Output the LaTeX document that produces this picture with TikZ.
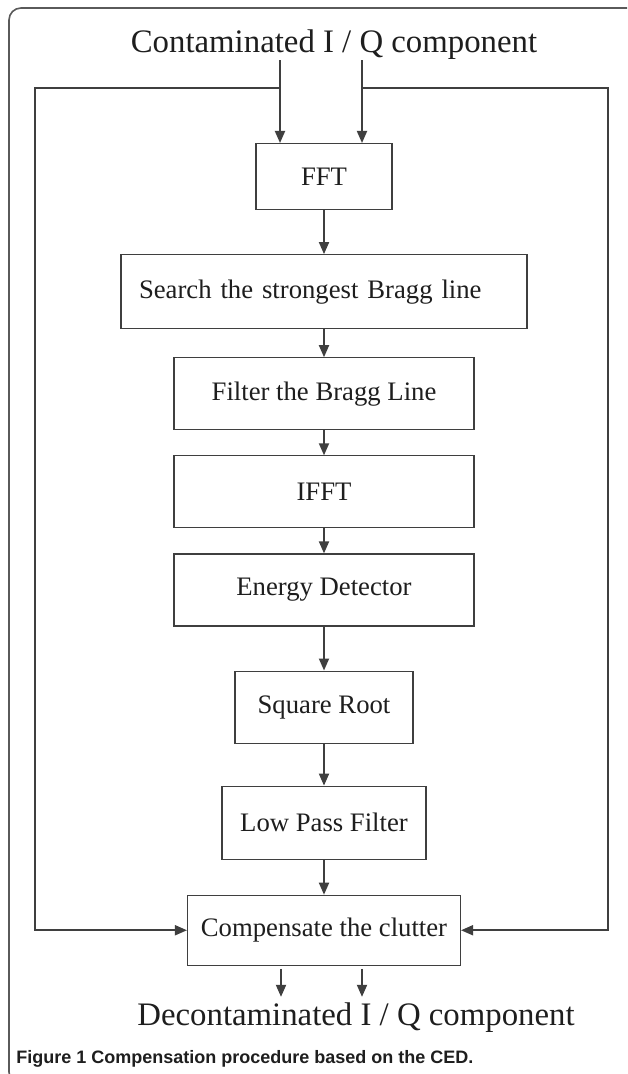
\documentclass[tikz,border=0pt]{standalone}
\usepackage{fontspec}
\setmainfont{Liberation Serif}
\newfontfamily\capfont{Liberation Sans}
\usetikzlibrary{arrows.meta,positioning,calc}
\definecolor{linegray}{HTML}{3F3F3F}
\definecolor{framegray}{HTML}{5A5A5A}
\definecolor{inkgray}{HTML}{1E1E1E}

\begin{document}
\begin{tikzpicture}[
    x=0.5pt, y=-0.5pt,
    font=\fontsize{13.35pt}{16pt}\selectfont,
    node distance=0mm,
    stage/.style={draw=linegray, line width=0.55pt, inner sep=0pt, align=center, text=inkgray, minimum height=36pt},
    flow/.style={-{Triangle[length=6pt,width=5pt]}, draw=linegray, line width=0.9pt},
    big/.style={font=\fontsize{16.4pt}{19pt}\selectfont, inner sep=0pt, text=inkgray}
]
\useasboundingbox (0,0) rectangle (627,1074);
\clip (0,0) rectangle (627,1074);
\fill[white] (0,0) rectangle (627,1074);

% outer frame
\draw[framegray, line width=0.8pt, rounded corners=6pt] (660,8) -- (9,8) -- (9,1084) -- (60,1084);

\node[big, anchor=base] (src) at (334,53) {Contaminated I / Q component};

\node[stage, minimum width=68pt, minimum height=33pt, anchor=north] (fft) at (324,143) {FFT};
\node[stage, text width=185pt, inner xsep=9pt, align=left, minimum height=37pt, below=22pt of fft] (srch) {Search the strongest Bragg line};
\node[stage, minimum width=150pt, below=14pt of srch] (filt) {Filter the Bragg Line};
\node[stage, minimum width=150pt, below=12.5pt of filt] (ifft) {IFFT};
\node[stage, minimum width=150pt, below=12.5pt of ifft] (edet) {Energy Detector};
\node[stage, minimum width=89pt, below=22pt of edet] (sroot) {Square Root};
\node[stage, minimum width=102pt, minimum height=36.5pt, below=21pt of sroot] (lpf) {Low Pass Filter};
\node[stage, minimum width=136.5pt, minimum height=35pt, below=17.5pt of lpf] (comp) {Compensate the clutter};

\node[big, anchor=base] (dst) at (356,1025) {Decontaminated I / Q component};

\node[anchor=base west, inner sep=0pt, text=inkgray, font=\capfont\bfseries\fontsize{9pt}{11pt}\selectfont] (cap) at (16,1063) {Figure 1 Compensation procedure based on the CED.};

% inputs and the two bypass lines
\coordinate (inA) at ($(fft.north)+(-44,0)$);
\coordinate (inB) at ($(fft.north)+(38,0)$);
\coordinate (tapA) at ($(inA)+(0,-55)$);
\coordinate (tapB) at ($(inB)+(0,-55)$);
\coordinate (cornA) at (35,88);
\coordinate (cornB) at (608,88);

\draw[flow] (inA |- src.south) -- (inA);
\draw[flow] (inB |- src.south) -- (inB);
\draw[flow] (tapA) -- (cornA) |- (comp.west);
\draw[flow] (tapB) -- (cornB) |- (comp.east);

\foreach \a/\b in {fft/srch, srch/filt, filt/ifft, ifft/edet, edet/sroot, sroot/lpf, lpf/comp}
  \draw[flow] (\a.south) -- (\b.north);

% outputs
\coordinate (outA) at ($(comp.south)+(-43,0)$);
\coordinate (outB) at ($(comp.south)+(38,0)$);
\draw[flow, shorten <=1.5pt, shorten >=2.5pt] (outA) -- (outA |- dst.north);
\draw[flow, shorten <=1.5pt, shorten >=2.5pt] (outB) -- (outB |- dst.north);
\end{tikzpicture}
\end{document}
